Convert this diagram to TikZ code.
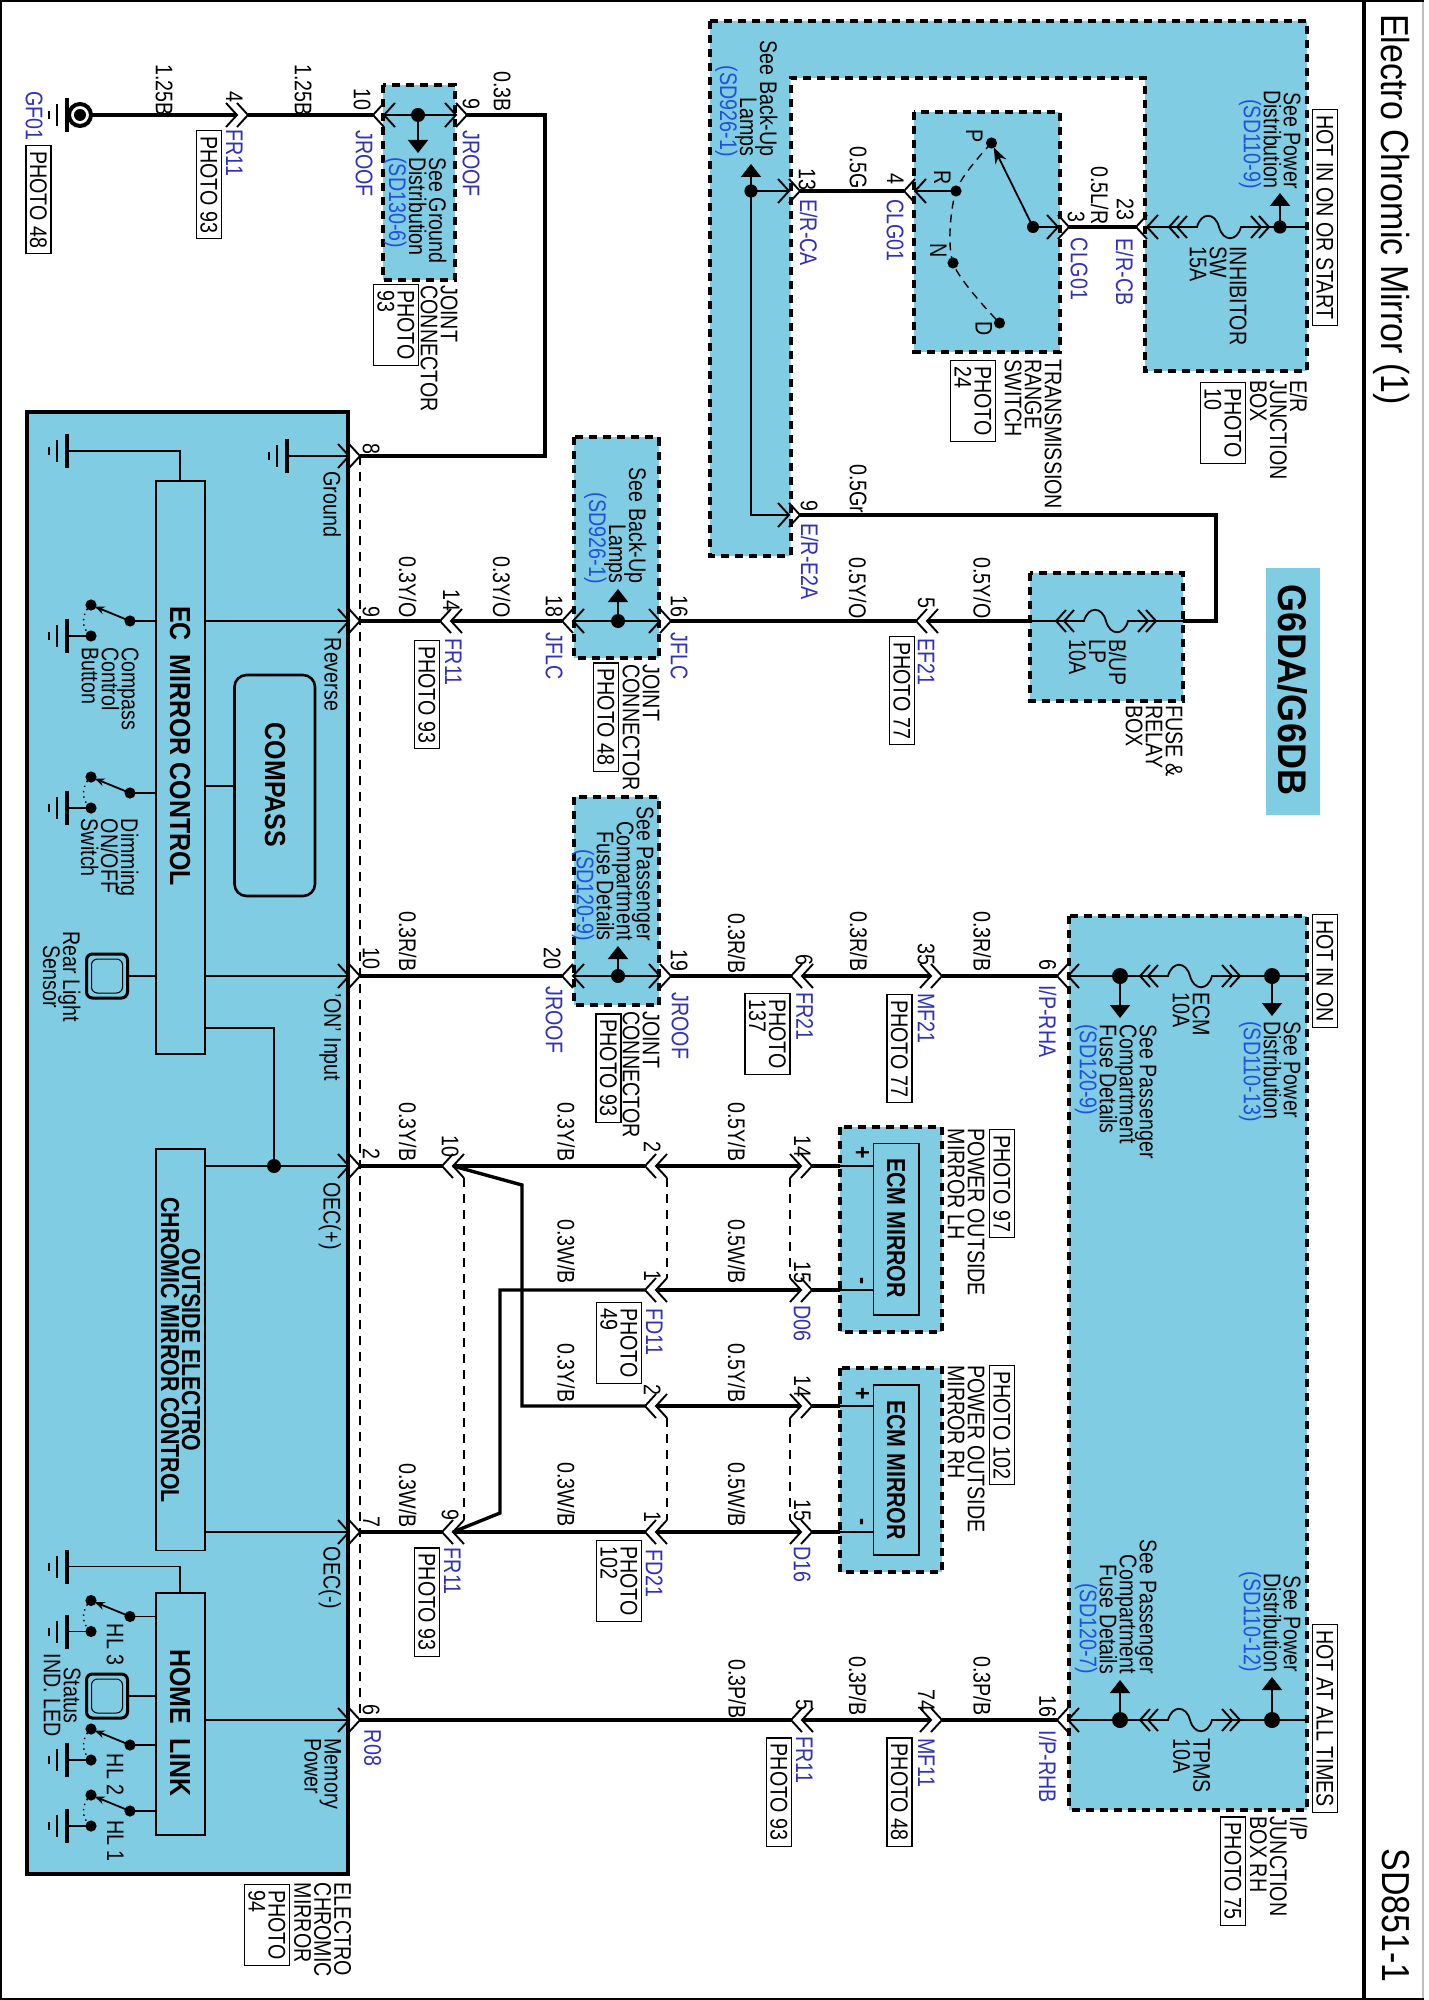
\documentclass[tikz,border=0pt]{standalone}
\usepackage{fontspec}
\setmainfont{Liberation Sans}
\usetikzlibrary{arrows.meta}
\definecolor{boxblue}{HTML}{7FCCE3}
\definecolor{pinblue}{HTML}{3030B8}
\definecolor{refblue}{HTML}{1F50E0}
\newcommand{\sdref}[1]{\textcolor{refblue}{#1}}
\newcommand{\tightlines}{\lineskiplimit=-10pt\relax}
\tikzset{
	wire/.style={line width=1.7pt},
	lead/.style={line width=.9pt},
	chev/.style={line width=.95pt},
	dashbox/.style={fill=boxblue, line width=2pt, dash pattern=on 4pt off 3pt},
	bridge/.style={line width=.6pt, dash pattern=on 4.5pt off 3.5pt},
	innerbox/.style={fill=boxblue, line width=.75pt},
	arr/.style={line width=.9pt, -{Triangle[width=10pt,length=6.5pt]}},
	lbl/.style={rotate=-90, xscale=.82, inner sep=0pt, anchor=north west, align=left, font=\fontsize{12}{10}\selectfont\tightlines},
	lblr/.style={lbl, anchor=north east, align=right},
	lblc/.style={lbl, anchor=north, align=center},
	pin/.style={lbl, text=pinblue},
	tag/.style={lbl, draw, line width=.7pt, fill=white, inner xsep=3.4pt, inner ysep=2pt},
	head/.style={rotate=-90, xscale=.87, inner sep=0pt, anchor=north west, font=\fontsize{19.5}{22}\selectfont},
	title/.style={rotate=-90, inner sep=0pt, anchor=center, align=center, font=\bfseries\fontsize{14.5}{11}\selectfont\tightlines, xscale=.86},
	subtitle/.style={rotate=-90, inner sep=0pt, anchor=center, align=center, font=\bfseries\fontsize{13}{10.5}\selectfont\tightlines, xscale=.82}
}
% connector, tips pointing right
\newcommand{\conR}[3]{
	\coordinate (#1a) at (#2,#3);
	\coordinate (#1b) at (#2+11,#3);
	\coordinate (#1c) at (#2-11,#3+12);
	\coordinate (#1d) at (#2-11,#3-12);
	\draw[chev] (#2-11,#3-12) -- (#2,#3) -- (#2-11,#3+12);
	\draw[chev] (#2,#3-12) -- (#2+11,#3) -- (#2,#3+12);
}
% connector, tips pointing left
\newcommand{\conL}[3]{
	\coordinate (#1a) at (#2,#3);
	\coordinate (#1b) at (#2+11,#3);
	\coordinate (#1c) at (#2+22,#3+12);
	\coordinate (#1d) at (#2+22,#3-12);
	\draw[chev] (#2+11,#3-12) -- (#2,#3) -- (#2+11,#3+12);
	\draw[chev] (#2+22,#3-12) -- (#2+11,#3) -- (#2+22,#3+12);
}
% fuse with its two connectors
\newcommand{\fuseS}[3]{
	\coordinate (#1a) at (#2-50,#3);
	\coordinate (#1b) at (#2+50,#3);
	\draw[lead] (#1a) -- (#2-22,#3) .. controls (#2-18,#3-15) and (#2-4,#3-15) .. (#2,#3)
		.. controls (#2+4,#3+15) and (#2+18,#3+15) .. (#2+22,#3) -- (#1b);
	\draw[chev] (#2-40,#3-11) -- (#2-50,#3) -- (#2-40,#3+11);
	\draw[chev] (#2-32,#3-11) -- (#2-42,#3) -- (#2-32,#3+11);
	\draw[chev] (#2+40,#3-11) -- (#2+50,#3) -- (#2+40,#3+11);
	\draw[chev] (#2+32,#3-11) -- (#2+42,#3) -- (#2+32,#3+11);
}
\newcommand{\gnd}[2]{
	\draw[line width=1.7pt] (#1,#2-17) -- (#1,#2+17);
	\draw[line width=1.4pt] (#1-10,#2-11) -- (#1-10,#2+11);
	\draw[line width=1.4pt] (#1-18,#2-4) -- (#1-18,#2+4);
}
\newcommand{\jdot}[4]{
	\coordinate (#1) at (#2,#3);
	\fill (#1) circle (#4);
}
% switch to ground
\newcommand{\swgnd}[2]{
	\jdot{#1p}{130}{#2}{2.8pt}
	\jdot{#1m}{91}{#2-16}{2.8pt}
	\jdot{#1g}{91}{#2+15}{2.8pt}
	\draw[lead] (#1p) -- (156,#2);
	\draw[lead, -{Stealth[length=5pt,width=4pt]}, shorten >=2pt] (#1p) -- (#1m);
	\draw[line width=.7pt, dotted] (#1m) .. controls (81,#2-8) and (81,#2+8) .. (#1g);
	\draw[lead] (#1g) -- (67,#2+15);
	\gnd{67}{#2+15}
}
% sensor lamp
\newcommand{\lamp}[2]{
	\draw[fill=boxblue, line width=1.5pt, rounded corners=3pt] (86.5,#2-22) rectangle (127.5,#2+22);
	\draw[line width=.5pt, rounded corners=3pt] (91.5,#2-17) rectangle (122.5,#2+17);
	\draw[lead] (127.5,#2) -- (156,#2);
}

\begin{document}
\begin{tikzpicture}[x=.5pt,y=-.5pt]
	\useasboundingbox (0,0) rectangle (1428,2000);

	% Page frame and title block
	\draw[line width=.9pt] (1,1) rectangle (1423,1999);
	\draw[line width=.6pt, black!25] (1423,2) -- (1423,1998);
	\draw[line width=2.3pt] (1364,1) -- (1364,1999);
	\node (pagetitle) [head] at (1410,14) {Electro Chromic Mirror (1)};
	\node (pagecode) [head, anchor=north east] at (1410,1983) {SD851-1};
	\fill[boxblue] (1266,568) rectangle (1320,815);
	\node (modelname) [rotate=-90, xscale=.9, inner sep=0pt, font=\bfseries\fontsize{20}{22}\selectfont] at (1293,690) {G6DA/G6DB};

	% Blue boxes
	\draw[line width=1.6pt, fill=boxblue] (27,412) rectangle (348,1874);
	\draw[dashbox] (382.5,85) rectangle (455,280);
	\draw[dashbox] (574,437.5) rectangle (659,658);
	\draw[dashbox] (574,796.5) rectangle (659,1005);
	\draw[dashbox] (710,21) -- (1307,21) -- (1307,371) -- (1145,371) -- (1145,78) -- (790.5,78) -- (790.5,556) -- (710,556) -- cycle;
	\draw[dashbox] (914,112.5) rectangle (1060,352);
	\draw[dashbox] (1030,572.5) rectangle (1183,701);
	\draw[dashbox] (840,1127) rectangle (942,1332);
	\draw[dashbox] (840,1368) rectangle (942,1572);
	\draw[dashbox] (1069,916) rectangle (1307,1809.5);
	\draw[innerbox] (873.5,1143.5) rectangle (919,1315);
	\draw[innerbox] (873.5,1385) rectangle (919,1555);
	\draw[innerbox] (156,481) rectangle (205,1054);
	\draw[innerbox] (156,1149) rectangle (205,1550.5);
	\draw[innerbox] (156,1593) rectangle (205,1835);
	\draw[line width=1.3pt, rounded corners=6pt] (234.5,675) rectangle (315,896);

	% Connectors
	\conR{frA}{237}{115}
	\conL{jrA}{373}{115}
	\conR{jrB}{456}{115}
	\conR{egG}{349}{456}
	\conR{egR}{349}{621}
	\conR{egO}{349}{976}
	\conR{egP}{349}{1166}
	\conR{egM}{349}{1532}
	\conR{egH}{349}{1720}
	\conL{frB}{440}{621}
	\conL{jfA}{562}{621}
	\conR{jfB}{660}{621}
	\conL{efA}{916}{621}
	\conL{jrC}{562}{976}
	\conR{jrD}{660}{976}
	\conL{frC}{791}{976}
	\conR{mfA}{931}{976}
	\conL{ipA}{1057}{976}
	\conL{frD}{442}{1166}
	\conL{fdA}{645}{1166}
	\conR{dlA}{801}{1166}
	\conL{fdB}{645}{1290}
	\conR{dlB}{801}{1290}
	\conL{fdC}{645}{1406}
	\conR{drA}{801}{1406}
	\conL{frE}{442}{1532}
	\conL{fdD}{645}{1532}
	\conR{drB}{801}{1532}
	\conL{frF}{791}{1720}
	\conR{mfB}{931}{1720}
	\conL{ipB}{1057}{1720}
	\conR{erA}{789}{191}
	\conL{clA}{904}{191}
	\conR{clB}{1058}{227}
	\conL{erB}{1136}{227}
	\conR{erC}{789}{515}

	% Fuses
	\fuseS{fsI}{1219}{227}
	\fuseS{fsB}{1106}{621}
	\fuseS{fsE}{1190}{976}
	\fuseS{fsT}{1190}{1720}

	% Ground eyelet
	\coordinate (gfring) at (80,115);
	\draw[line width=2pt] (gfring) circle (5.5pt);
	\fill (gfring) circle (3pt);
	\gnd{67}{115}
	\coordinate (gfout) at (92,115);

	% Junction dots
	\jdot{dtA}{418}{115}{3.5pt}
	\jdot{dtB}{618}{621}{3.5pt}
	\jdot{dtC}{618}{976}{3.5pt}
	\jdot{dtD}{1120}{976}{4pt}
	\jdot{dtE}{1272}{976}{4pt}
	\jdot{dtF}{1120}{1720}{4pt}
	\jdot{dtG}{1272}{1720}{4pt}
	\jdot{dtH}{751}{191}{3.3pt}
	\jdot{dtI}{1280}{227}{3.3pt}
	\jdot{dtJ}{274}{1166}{3.5pt}
	\jdot{swP}{991.5}{143}{2.8pt}
	\jdot{swR}{956}{191}{2.8pt}
	\jdot{swN}{953}{263}{2.8pt}
	\jdot{swD}{999.5}{323}{2.8pt}
	\jdot{swC}{1033}{227}{3pt}

	% Edge points and bends
	\coordinate (rlyL) at (1030,621);
	\coordinate (rlyR) at (1183,621);
	\coordinate (bendA) at (545,456);
	\coordinate (bendB) at (1216,621);
	\coordinate (bendC) at (522,1185);
	\coordinate (bendD) at (500,1513);
	\coordinate (ipAr) at (1307,976);
	\coordinate (ipBr) at (1307,1720);
	\coordinate (erAr) at (1307,227);
	\coordinate (mlA) at (840,1166);
	\coordinate (mlB) at (840,1290);
	\coordinate (mrA) at (840,1406);
	\coordinate (mrB) at (840,1532);
	\coordinate (mlAi) at (873.5,1166);
	\coordinate (mlBi) at (873.5,1290);
	\coordinate (mrAi) at (873.5,1406);
	\coordinate (mrBi) at (873.5,1532);

	% Heavy wires
	\draw[wire] (gfout) -- (frAa);
	\draw[wire] (frAb) -- (jrAa);
	\draw[wire, line join=miter] (jrBb) -| (bendA) -- (egGb);
	\draw[wire] (egRb) -- (frBa);
	\draw[wire] (frBb) -- (jfAa);
	\draw[wire] (jfBb) -- (efAa);
	\draw[wire] (efAb) -- (rlyL);
	\draw[wire, line join=miter] (erCb) -| (bendB) -- (rlyR);
	\draw[wire] (egOb) -- (jrCa);
	\draw[wire] (jrDb) -- (frCa);
	\draw[wire] (frCb) -- (mfAa);
	\draw[wire] (mfAb) -- (ipAa);
	\draw[wire] (egPb) -- (frDa);
	\draw[wire] (frDb) -- (fdAa);
	\draw[wire] (fdAb) -- (dlAa);
	\draw[wire] (dlAb) -- (mlA);
	\draw[wire, line join=miter] (frDb) -- (bendC) |- (fdCa);
	\draw[wire] (fdCb) -- (drAa);
	\draw[wire] (drAb) -- (mrA);
	\draw[wire] (egMb) -- (frEa);
	\draw[wire] (frEb) -- (fdDa);
	\draw[wire] (fdDb) -- (drBa);
	\draw[wire] (drBb) -- (mrB);
	\draw[wire, line join=miter] (frEb) -- (bendD) |- (fdBa);
	\draw[wire] (fdBb) -- (dlBa);
	\draw[wire] (dlBb) -- (mlB);
	\draw[wire] (egHb) -- (frFa);
	\draw[wire] (frFb) -- (mfBa);
	\draw[wire] (mfBb) -- (ipBa);
	\draw[wire] (erAb) -- (clAa);
	\draw[wire] (clBb) -- (erBa);

	% Thin leads inside the boxes
	\draw[lead] (jrAb) -- (jrBa);
	\draw[lead] (jfAb) -- (jfBa);
	\draw[lead] (jrCb) -- (jrDa);
	\draw[lead] (ipAb) -- (fsEa);
	\draw[lead] (fsEb) -- (ipAr);
	\draw[lead] (ipBb) -- (fsTa);
	\draw[lead] (fsTb) -- (ipBr);
	\draw[lead] (rlyL) -- (fsBa);
	\draw[lead] (fsBb) -- (rlyR);
	\draw[lead] (erBb) -- (fsIa);
	\draw[lead] (fsIb) -- (erAr);
	\draw[lead] (dtH) -- (erAa);
	\draw[lead] (dtH) |- (erCa);
	\draw[lead] (clAb) -- (swR);
	\draw[lead] (swC) -- (clBa);
	\draw[line width=.9pt, -{Stealth[length=8pt,width=6pt]}, shorten >=2.5pt] (swC) -- (swP);
	\draw[line width=.7pt, dash pattern=on 4pt off 3pt] plot[smooth] coordinates {(swP) (swR) (swN) (swD)};
	\draw[lead] (mlA) -- (mlAi);
	\draw[lead] (mlB) -- (mlBi);
	\draw[lead] (mrA) -- (mrAi);
	\draw[lead] (mrB) -- (mrBi);

	% Arrows to other sections
	\draw[arr] (dtA) -- (418,153);
	\draw[arr] (dtB) -- (618,589);
	\draw[arr] (dtC) -- (618,946);
	\draw[arr] (dtD) -- (1120,1018);
	\draw[arr] (dtE) -- (1272,1016);
	\draw[arr] (dtF) -- (1120,1680);
	\draw[arr] (dtG) -- (1272,1677);
	\draw[arr] (dtH) -- (751,164);
	\draw[arr] (dtI) -- (1280,193);

	% Shorting bars
	\draw[bridge] (egGb) -- (egHb);
	\draw[bridge] (frDc) -- (frEd);
	\draw[bridge] (fdAc) -- (fdBd);
	\draw[bridge] (fdCc) -- (fdDd);
	\draw[bridge] (dlAc) -- (dlBd);
	\draw[bridge] (drAc) -- (drBd);

	% Inside the mirror
	\coordinate (gmain) at (287,456);
	\draw[lead] (gmain) -- (egGa);
	\gnd{287}{456}
	\coordinate (ecgnd) at (67,451);
	\draw[lead] (180,481) |- (ecgnd);
	\gnd{67}{451}
	\coordinate (hlgnd) at (67,1566.5);
	\draw[lead] (180,1593) |- (hlgnd);
	\gnd{67}{1566.5}
	\coordinate (ecR) at (205,621);
	\coordinate (ecO) at (205,976);
	\coordinate (ecC) at (205,786);
	\coordinate (ecL) at (205,1028);
	\coordinate (ouP) at (205,1166);
	\coordinate (ouM) at (205,1532);
	\coordinate (hlM) at (205,1720);
	\coordinate (cpL) at (234.5,786);
	\draw[lead] (ecR) -- (egRa);
	\draw[lead] (ecO) -- (egOa);
	\draw[lead] (ecC) -- (cpL);
	\draw[lead] (ouP) -- (egPa);
	\draw[lead] (ouM) -- (egMa);
	\draw[lead] (hlM) -- (egHa);
	\draw[lead] (ecL) -| (dtJ);
	\swgnd{swa}{621}
	\swgnd{swb}{793}
	\swgnd{swc}{1616.5}
	\swgnd{swd}{1745}
	\swgnd{swe}{1811}
	\lamp{rear}{976}
	\lamp{stat}{1696}

	% Box titles
	\node (ttEC) [title] at (180,746) {EC\ \ MIRROR CONTROL};
	\node (ttCP) [title] at (275,785) {COMPASS};
	\node (ttHL) [title] at (180,1723) {HOME\ \ LINK};
	\node (ttOU) [subtitle] at (180.5,1350) {OUTSIDE ELECTRO\\CHROMIC MIRROR CONTROL};
	\node (ttML) [subtitle] at (896,1228) {ECM MIRROR};
	\node (ttMR) [subtitle] at (896,1470) {ECM MIRROR};
	\node (plA) [lblc, anchor=center, font=\bfseries\fontsize{13}{14}\selectfont] at (861.5,1153) {+};
	\node (miA) [lblc, anchor=center, font=\bfseries\fontsize{13}{14}\selectfont] at (859,1281) {-};
	\node (plB) [lblc, anchor=center, font=\bfseries\fontsize{13}{14}\selectfont] at (861.5,1394) {+};
	\node (miB) [lblc, anchor=center, font=\bfseries\fontsize{13}{14}\selectfont] at (859,1522) {-};

	% Mirror texts
	\node (inGnd) [lbl] at (341.5,471) {Ground};
	\node (inRev) [lbl] at (341.5,637.5) {Reverse};
	\node (inOn) [lbl] at (341.5,993.5) {'ON' Input};
	\node (inOp) [lbl] at (341.5,1182) {OEC(+)};
	\node (inOm) [lbl] at (341.5,1546.5) {OEC(-)};
	\node (inMem) [lbl] at (341.5,1738) {Memory\\Power};
	\node (txCC) [lbl] at (139,647) {Compass\\Control\\Button};
	\node (txDim) [lbl] at (139,818.5) {Dimming\\ON/OFF\\Switch};
	\node (txRear) [lblc] at (81,976.5) {Rear Light\\Sensor};
	\node (txStat) [lblc] at (81,1695.5) {Status\\IND. LED};
	\node (txHL3) [lbl] at (124,1623.5) {HL 3};
	\node (txHL2) [lbl] at (124,1753.5) {HL 2};
	\node (txHL1) [lbl] at (124,1820) {HL 1};
	\node (txEcm) [lbl] at (351.5,1882.5) {ELECTRO\\CHROMIC\\MIRROR};
	\node (phEcm) [tag] at (290,1884) {PHOTO\\94};

	% Top left, ground and joint
	\node (pnGF) [pin] at (43,91) {GF01};
	\node (phGF) [tag] at (51.5,145) {PHOTO 48};
	\node (wg1) [lbl] at (173,64) {1.25B};
	\node (ptFRa) [lbl] at (243,91) {4};
	\node (pnFRa) [pin] at (243,129) {FR11};
	\node (phFRa) [tag] at (222,130) {PHOTO 93};
	\node (wg2) [lbl] at (312,64) {1.25B};
	\node (ptJRa) [lbl] at (371,88.5) {10};
	\node (pnJRa) [pin] at (373,130) {JROOF};
	\node (ptJRb) [lbl] at (480,98) {9};
	\node (pnJRb) [pin] at (480,130) {JROOF};
	\node (wg3) [lbl] at (511,71) {0.3B};
	\node (txJRa) [lbl] at (447,157) {See Ground\\Distribution\\\sdref{(SD130-6)}};
	\node (txJCa) [lbl] at (458,285) {JOINT\\CONNECTOR};
	\node (phJCa) [tag] at (419,284) {PHOTO\\93};
	\node (ptEG) [lbl] at (380,443) {8};

	% Reverse circuit
	\node (ptEGr) [lbl] at (380,606) {9};
	\node (wyoA) [lbl] at (417,556) {0.3Y/O};
	\node (ptFRb) [lbl] at (460,589) {14};
	\node (pnFRb) [pin] at (462,638.5) {FR11};
	\node (phFRb) [tag] at (440,640) {PHOTO 93};
	\node (wyoB) [lbl] at (511,556) {0.3Y/O};
	\node (ptJFa) [lbl] at (563,595) {18};
	\node (pnJFa) [pin] at (563,632) {JFLC};
	\node (txJF) [lblr] at (647,584) {See Back-Up\\Lamps\\\sdref{(SD926-1)}};
	\node (ptJFb) [lbl] at (688,595) {16};
	\node (pnJFb) [pin] at (688,632) {JFLC};
	\node (txJCb) [lbl] at (660,664) {JOINT\\CONNECTOR};
	\node (phJCb) [tag] at (619,662.5) {PHOTO 48};
	\node (wyoC) [lbl] at (867,557) {0.5Y/O};
	\node (wyoD) [lbl] at (991.5,557) {0.5Y/O};
	\node (ptEF) [lbl] at (935,597) {5};
	\node (pnEF) [pin] at (935,638.5) {EF21};
	\node (phEF) [tag] at (915,636) {PHOTO 77};
	\node (txBU) [lbl] at (1127,639) {B/UP\\LP\\10A};
	\node (txRly) [lbl] at (1183,705) {FUSE \&\\RELAY\\BOX};

	% Range switch and E/R box
	\node (txER) [lblr] at (778,157) {See Back-Up\\Lamps\\\sdref{(SD926-1)}};
	\node (ptERa) [lbl] at (816,168) {13};
	\node (pnERa) [pin] at (818,199) {E/R-CA};
	\node (wgn) [lbl] at (867,146) {0.5G};
	\node (ptCLa) [lbl] at (904,173) {4};
	\node (pnCLa) [pin] at (904,199) {CLG01};
	\node (txP) [lbl] at (983,129) {P};
	\node (txR) [lbl] at (951,170) {R};
	\node (txN) [lbl] at (947,243) {N};
	\node (txD) [lbl] at (992.5,321) {D};
	\node (txTR) [lbl] at (1062,359) {TRANSMISSION\\RANGE\\SWITCH};
	\node (phTR) [tag] at (996,360) {PHOTO\\24};
	\node (wlr) [lbl] at (1109,166) {0.5L/R};
	\node (ptCLb) [lbl] at (1085,211) {3};
	\node (pnCLb) [pin] at (1088,237.5) {CLG01};
	\node (ptERb) [lbl] at (1134,198) {23};
	\node (pnERb) [pin] at (1134,238.5) {E/R-CB};
	\node (txIN) [lbl] at (1247,246) {INHIBITOR\\SW\\15A};
	\node (txPDa) [lblr] at (1301,189) {See Power\\Distribution\\\sdref{(SD110-9)}};
	\node (htA) [tag] at (1338,109) {HOT IN ON OR START};
	\node (txJB) [lbl] at (1308,380) {E/R\\JUNCTION\\BOX};
	\node (phJB) [tag] at (1246,382) {PHOTO\\10};
	\node (ptERc) [lbl] at (818,500) {9};
	\node (wgr) [lbl] at (867,464) {0.5Gr};
	\node (pnERc) [pin] at (819,523) {E/R-E2A};

	% ON input circuit
	\node (ptEGo) [lbl] at (380,947) {10};
	\node (wrbA) [lbl] at (417,911) {0.3R/B};
	\node (ptJRc) [lbl] at (561,947) {20};
	\node (pnJRc) [pin] at (563,986) {JROOF};
	\node (txJR) [lblr] at (654,941) {See Passenger\\Compartment\\Fuse Details\\\sdref{(SD120-9)}};
	\node (ptJRd) [lbl] at (688,949) {19};
	\node (pnJRd) [pin] at (689,992) {JROOF};
	\node (txJCc) [lbl] at (660,1011) {JOINT\\CONNECTOR};
	\node (phJCc) [tag] at (621.5,1013.5) {PHOTO 93};
	\node (wrbB) [lbl] at (746,913) {0.3R/B};
	\node (ptFRc) [lbl] at (813,954) {6};
	\node (pnFRc) [pin] at (813.5,992) {FR21};
	\node (phFRc) [tag] at (790.5,993) {PHOTO\\137};
	\node (wrbC) [lbl] at (868,911) {0.3R/B};
	\node (ptMFa) [lbl] at (935,943.5) {35};
	\node (pnMFa) [pin] at (935,993) {MF21};
	\node (phMFa) [tag] at (912.5,994) {PHOTO 77};
	\node (wrbD) [lbl] at (991.5,911) {0.3R/B};
	\node (ptIPa) [lbl] at (1056.5,959) {6};
	\node (pnIPa) [pin] at (1057,985) {I/P-RHA};
	\node (txECM) [lbl] at (1210,992) {ECM\\10A};
	\node (txPCa) [lbl] at (1157,1024) {See Passenger\\Compartment\\Fuse Details\\\sdref{(SD120-9)}};
	\node (txPDb) [lbl] at (1301,1021) {See Power\\Distribution\\\sdref{(SD110-13)}};
	\node (htB) [tag] at (1338,914) {HOT IN ON};

	% Outside mirrors
	\node (ptEGp) [lbl] at (380,1148) {2};
	\node (ptEGm) [lbl] at (380,1516.5) {7};
	\node (wybA) [lbl] at (417,1102) {0.3Y/B};
	\node (wwbA) [lbl] at (417,1463) {0.3W/B};
	\node (ptFRd) [lbl] at (459,1135) {10};
	\node (ptFRe) [lbl] at (459,1509) {9};
	\node (pnFRe) [pin] at (461,1547.5) {FR11};
	\node (phFRe) [tag] at (440,1547.5) {PHOTO 93};
	\node (wybB) [lbl] at (575.5,1102) {0.3Y/B};
	\node (wwbB) [lbl] at (575.5,1219) {0.3W/B};
	\node (wybC) [lbl] at (575.5,1343) {0.3Y/B};
	\node (wwbC) [lbl] at (575.5,1462) {0.3W/B};
	\node (ptFDa) [lbl] at (661,1141) {2};
	\node (ptFDb) [lbl] at (661,1270) {1};
	\node (pnFDb) [pin] at (663,1308) {FD11};
	\node (phFDb) [tag] at (642,1302) {PHOTO\\49};
	\node (ptFDc) [lbl] at (661,1384) {2};
	\node (ptFDd) [lbl] at (661,1511) {1};
	\node (pnFDd) [pin] at (663,1549) {FD21};
	\node (phFDd) [tag] at (642,1540) {PHOTO\\102};
	\node (wybD) [lbl] at (746,1102) {0.5Y/B};
	\node (wwbD) [lbl] at (746,1219) {0.5W/B};
	\node (wybE) [lbl] at (746,1343) {0.5Y/B};
	\node (wwbE) [lbl] at (746,1462) {0.5W/B};
	\node (ptDLa) [lbl] at (811,1135) {14};
	\node (ptDLb) [lbl] at (811,1261) {15};
	\node (pnDL) [pin] at (811,1305) {D06};
	\node (ptDRa) [lbl] at (811,1375) {14};
	\node (ptDRb) [lbl] at (811,1499) {15};
	\node (pnDR) [pin] at (811,1546) {D16};
	\node (txML) [lbl] at (985,1128.5) {POWER OUTSIDE\\MIRROR LH};
	\node (phML) [tag] at (1015,1129) {PHOTO 97};
	\node (txMR) [lbl] at (985,1365) {POWER OUTSIDE\\MIRROR RH};
	\node (phMR) [tag] at (1015,1365) {PHOTO 102};

	% Memory power circuit
	\node (ptEGh) [lbl] at (380,1704) {6};
	\node (pnR08) [pin] at (381.5,1729.5) {R08};
	\node (wpbA) [lbl] at (746.5,1659) {0.3P/B};
	\node (ptFRf) [lbl] at (813,1699) {5};
	\node (pnFRf) [pin] at (813,1736) {FR11};
	\node (phFRf) [tag] at (792,1737.5) {PHOTO 93};
	\node (wpbB) [lbl] at (867,1656) {0.3P/B};
	\node (ptMFb) [lbl] at (935,1689) {74};
	\node (pnMFb) [pin] at (935,1738) {MF11};
	\node (phMFb) [tag] at (912.5,1737.5) {PHOTO 48};
	\node (wpbC) [lbl] at (991.5,1656) {0.3P/B};
	\node (ptIPb) [lbl] at (1056.5,1695) {16};
	\node (pnIPb) [pin] at (1057,1730.5) {I/P-RHB};
	\node (txTP) [lbl] at (1210.5,1738) {TPMS\\10A};
	\node (txPCb) [lblr] at (1157,1674.5) {See Passenger\\Compartment\\Fuse Details\\\sdref{(SD120-7)}};
	\node (txPDc) [lblr] at (1301,1672.5) {See Power\\Distribution\\\sdref{(SD110-12)}};
	\node (htC) [tag] at (1338,1624) {HOT AT ALL TIMES};
	\node (txIP) [lbl] at (1308,1816.5) {I/P\\JUNCTION\\BOX RH};
	\node (phIP) [tag] at (1246,1816.5) {PHOTO 75};
\end{tikzpicture}
\end{document}
